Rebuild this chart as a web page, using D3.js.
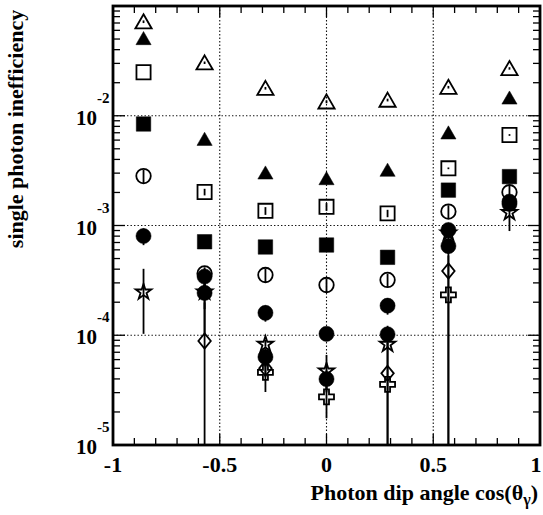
<!DOCTYPE html>
<html>
<head>
<meta charset="utf-8">
<script src="https://cdn.jsdelivr.net/npm/d3@7"></script>
<style>
  html, body { margin: 0; padding: 0; background: #fff; }
  svg { display: block; }
  text { font-family: "Liberation Serif", "Times New Roman", serif; font-weight: bold; fill: #000; }
</style>
</head>
<body>
<svg id="chart" width="543" height="515"></svg>
<script>
// Bin centres in cos(theta_gamma): seven bins of width 2/7
const binCenters = [-0.857, -0.571, -0.286, 0.0, 0.286, 0.571, 0.857];

// Inefficiency per bin for each sample (null = no entry), with errors
const openTriangle    = [0.0719, 0.0304, 0.0178, 0.0134, 0.0139, 0.0182, 0.0270];
const openTriangleErr = [0.0020, 0.0008, 0.0005, 0.0004, 0.0004, 0.0005, 0.0007];

const fullTriangle    = [0.0508, 0.00614, 0.00303, 0.00269, 0.00321, 0.00702, 0.0146];
const fullTriangleErr = [0.0030, 0.00040, 0.00020, 0.00020, 0.00020, 0.00040, 0.0008];

const openSquare    = [0.0249, 0.00202, 0.00136, 0.00148, 0.00129, 0.00332, 0.00668];
const openSquareErr = [0.0000, 0.00014, 0.00011, 0.00012, 0.00010, 0.00006, 0.00012];

const fullSquare    = [0.00841, 0.000711, 0.000637, 0.000664, 0.000513, 0.00210, 0.00279];
const fullSquareErr = [0.00050, 0.000070, 0.000060, 0.000060, 0.000050, 0.00015, 0.00020];

const openCircle    = [0.00282, 0.000366, 0.000354, 0.000287, 0.000319, 0.00134, 0.00201];
const openCircleErr = [0.00040, 0.000050, 0.000050, 0.000040, 0.000045, 0.00019, 0.00028];

const fullCircleA    = [0.000802, 0.000343, 0.000160, 0.000103, 0.000186, 0.000910, 0.00165];
const fullCircleAErr = [0.000140, 0.000040, 0.000027, 0.000012, 0.000032, 0.000100, 0.00015];

const star    = [0.000253, 0.000253, 0.0000845, 0.0000482, 0.0000845, 0.000873, 0.00134];
const starErr = [0.000150, 0.000150, 0.0000060, 0.0000180, 0.0000100, 0.000080, 0.00045];

const fullCircleB    = [null, 0.000243, 0.0000634, 0.0000399, 0.000102, 0.000650, 0.00157];
const fullCircleBErr = [null, 0.000070, 0.0000120, 0.0000080, 0.000020, 0.000100, 0.00015];

const diamond    = [null, 0.0000887, 0.0000500, null, 0.0000450, 0.000385, null];
const diamondErr = [null, 0.000110,  0.0000080, null, 0.0000550, 0.000450, null];

const cross    = [null, null, 0.0000459, 0.0000275, 0.0000357, 0.000233, null];
const crossErr = [null, null, 0.0000155, 0.0000100, 0.0000450, 0.000300, null];

const xTicks = [-1, -0.5, 0, 0.5, 1];
const xTickLabels = ["-1", "-0.5", "0", "0.5", "1"];
const yDecades = [1e-2, 1e-3, 1e-4, 1e-5];
const yDecadeExponents = ["-2", "-3", "-4", "-5"];

const xTitle = "Photon dip angle cos(\u03B8";
const xTitleSub = "\u03B3";
const yTitle = "single photon inefficiency";

// ---- layout ----
const svg = d3.select("#chart");
const plot = { left: 113, right: 540, top: 6, bottom: 445 };

const x = d3.scaleLinear().domain([-1, 1]).range([plot.left, plot.right]);
const y = d3.scaleLog().domain([1e-5, 1e-1]).range([plot.bottom, plot.top]);

svg.append("defs").append("clipPath").attr("id", "plotClip")
  .append("rect")
  .attr("x", plot.left).attr("y", plot.top)
  .attr("width", plot.right - plot.left).attr("height", plot.bottom - plot.top);

// ---- dotted grid ----
const grid = svg.append("g").attr("stroke", "#111").attr("stroke-width", 1.1)
  .attr("stroke-dasharray", "1.4,2.1");
[-0.5, 0, 0.5].forEach(v => {
  grid.append("line").attr("x1", x(v)).attr("x2", x(v))
    .attr("y1", plot.top).attr("y2", plot.bottom);
});
[1e-2, 1e-3, 1e-4].forEach(v => {
  grid.append("line").attr("y1", y(v)).attr("y2", y(v))
    .attr("x1", plot.left).attr("x2", plot.right);
});

// ---- ticks on all four sides ----
const ticks = svg.append("g").attr("stroke", "#000").attr("stroke-width", 1.3);
const xMinor = d3.range(-10, 11).map(i => i / 10);
xMinor.forEach(v => {
  const len = Math.abs(v * 2 - Math.round(v * 2)) < 1e-9 ? 11 : 7;
  ticks.append("line").attr("x1", x(v)).attr("x2", x(v))
    .attr("y1", plot.bottom).attr("y2", plot.bottom - len);
  ticks.append("line").attr("x1", x(v)).attr("x2", x(v))
    .attr("y1", plot.top).attr("y2", plot.top + len);
});
const yMinor = [];
[1e-5, 1e-4, 1e-3, 1e-2].forEach(d => {
  for (let k = 1; k <= 9; k++) yMinor.push({ v: d * k, major: k === 1 });
});
yMinor.push({ v: 1e-1, major: true });
yMinor.forEach(t => {
  const len = t.major ? 12 : 7;
  ticks.append("line").attr("y1", y(t.v)).attr("y2", y(t.v))
    .attr("x1", plot.left).attr("x2", plot.left + len);
  ticks.append("line").attr("y1", y(t.v)).attr("y2", y(t.v))
    .attr("x1", plot.right).attr("x2", plot.right - len);
});

// ---- marker shapes ----
const diamondSymbol = {
  draw(ctx, size) {
    const h = Math.sqrt(size) * 0.62, w = h * 0.82;
    ctx.moveTo(0, -h); ctx.lineTo(w, 0); ctx.lineTo(0, h); ctx.lineTo(-w, 0); ctx.closePath();
  }
};
const crossSymbol = {
  draw(ctx, size) {
    const r = Math.sqrt(size) / 2, a = r / 3;
    ctx.moveTo(-a, -r); ctx.lineTo(a, -r); ctx.lineTo(a, -a); ctx.lineTo(r, -a);
    ctx.lineTo(r, a); ctx.lineTo(a, a); ctx.lineTo(a, r); ctx.lineTo(-a, r);
    ctx.lineTo(-a, a); ctx.lineTo(-r, a); ctx.lineTo(-r, -a); ctx.lineTo(-a, -a);
    ctx.closePath();
  }
};

const seriesList = [
  { vals: openTriangle, errs: openTriangleErr, type: d3.symbolTriangle, size: 115, filled: false, dy: 2 },
  { vals: fullTriangle, errs: fullTriangleErr, type: d3.symbolTriangle, size: 100, filled: true, dy: 2 },
  { vals: openSquare, errs: openSquareErr, type: d3.symbolSquare, size: 200, filled: false, dy: 0 },
  { vals: fullSquare, errs: fullSquareErr, type: d3.symbolSquare, size: 210, filled: true, dy: 0 },
  { vals: openCircle, errs: openCircleErr, type: d3.symbolCircle, size: 165, filled: false, dy: 0 },
  { vals: fullCircleA, errs: fullCircleAErr, type: d3.symbolCircle, size: 180, filled: true, dy: 0 },
  { vals: star, errs: starErr, type: d3.symbolStar, size: 75, filled: false, dy: 1 },
  { vals: fullCircleB, errs: fullCircleBErr, type: d3.symbolCircle, size: 180, filled: true, dy: 0 },
  { vals: diamond, errs: diamondErr, type: diamondSymbol, size: 150, filled: false, dy: 0 },
  { vals: cross, errs: crossErr, type: crossSymbol, size: 225, filled: false, dy: 0 }
];

const marks = svg.append("g").attr("clip-path", "url(#plotClip)");
const floorVal = 1e-6;

seriesList.forEach(s => {
  const pts = binCenters.map((c, i) => ({ c, v: s.vals[i], e: s.errs[i] }))
    .filter(p => p.v !== null);
  const g = marks.append("g");
  g.selectAll("line.err").data(pts.filter(p => p.e > 0)).join("line")
    .attr("class", "err")
    .attr("x1", p => x(p.c)).attr("x2", p => x(p.c))
    .attr("y1", p => y(p.v + p.e))
    .attr("y2", p => y(Math.max(p.v - p.e, floorVal)))
    .attr("stroke", "#000").attr("stroke-width", 1.8);
  g.selectAll("path.mk").data(pts).join("path")
    .attr("class", "mk")
    .attr("transform", p => `translate(${x(p.c)},${y(p.v) + s.dy})`)
    .attr("d", d3.symbol().type(s.type).size(s.size))
    .attr("fill", s.filled ? "#000" : "none")
    .attr("stroke", "#000")
    .attr("stroke-width", s.filled ? 0.5 : 1.8)
    .attr("stroke-linejoin", "miter");
});

// ---- frame ----
svg.append("rect")
  .attr("x", plot.left).attr("y", plot.top)
  .attr("width", plot.right - plot.left).attr("height", plot.bottom - plot.top)
  .attr("fill", "none").attr("stroke", "#000").attr("stroke-width", 2.8);

// ---- x tick labels (the last one is pulled in so it stays on the page) ----
svg.append("g").selectAll("text").data(xTicks).join("text")
  .attr("x", d => Math.min(x(d), 536)).attr("y", 472)
  .attr("text-anchor", "middle").attr("font-size", 22)
  .text((d, i) => xTickLabels[i]);

// ---- y tick labels: 10 with exponent ----
const yl = svg.append("g");
yDecades.forEach((d, i) => {
  yl.append("text").attr("x", 97).attr("y", y(d) + 9)
    .attr("text-anchor", "end").attr("font-size", 21).text("10");
  yl.append("text").attr("x", 97).attr("y", y(d) - 13)
    .attr("text-anchor", "start").attr("font-size", 15).text(yDecadeExponents[i]);
});

// ---- axis titles ----
const xt = svg.append("text").attr("x", 538).attr("y", 500)
  .attr("text-anchor", "end").attr("font-size", 22);
xt.append("tspan").text(xTitle);
xt.append("tspan").attr("font-size", 16).attr("dy", 5).text(xTitleSub);
xt.append("tspan").attr("dy", -5).text(")");

svg.append("text")
  .attr("transform", "translate(23,129) rotate(-90)")
  .attr("text-anchor", "middle").attr("font-size", 22)
  .text(yTitle);
</script>
</body>
</html>
